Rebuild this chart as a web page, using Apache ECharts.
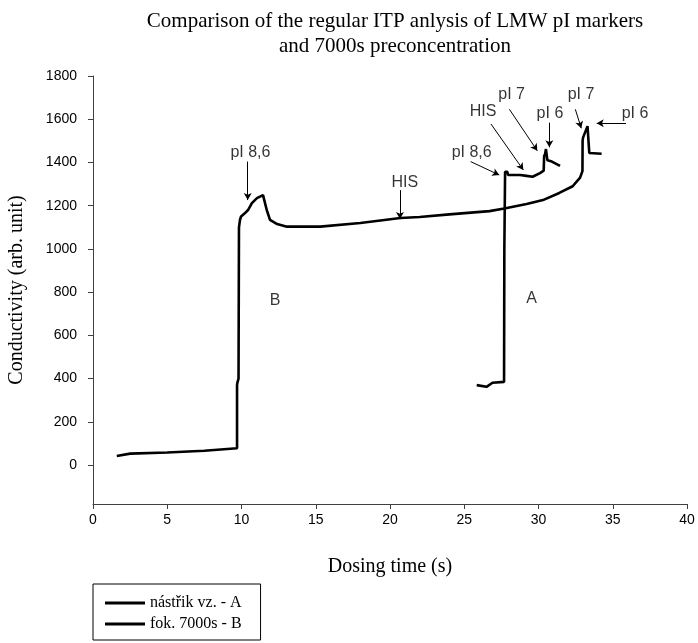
<!DOCTYPE html>
<html>
<head>
<meta charset="utf-8">
<script src="https://cdn.jsdelivr.net/npm/echarts@6/dist/echarts.min.js"></script>
<style>html,body{margin:0;padding:0;background:#fff;}#c{width:698px;height:643px;}</style>
</head>
<body>
<div id="c"></div>
<script>
// ---- data ----
var seriesAName = 'nástřik vz. - A';
var seriesBName = 'fok. 7000s - B';

var seriesA_x = [25.84, 26.5, 26.9, 27.68, 27.7, 27.75, 27.9, 27.95, 28.75, 29.2, 29.6, 30.1, 30.35, 30.38, 30.45, 30.5, 30.58, 30.6, 30.9, 31.45];
var seriesA_y = [370, 362, 381, 385, 1000, 1357, 1357, 1342, 1342, 1338, 1334, 1351, 1362, 1430, 1440, 1462, 1462, 1410, 1404, 1384];

var seriesB_x = [1.6, 2.5, 5, 7.5, 9.7, 9.7, 9.72, 9.8, 9.83, 9.9, 9.97, 10.24, 10.44, 10.7, 11.04, 11.45, 11.58, 11.7, 11.92, 12.4, 13.06, 15.3, 18, 20.7, 22, 24, 26.7, 27.7, 29.2, 30.3, 31.4, 32.3, 32.8, 32.96, 32.97, 33.0, 33.3, 33.36, 33.42, 34.25];
var seriesB_y = [42, 53, 58, 66, 78, 370, 380, 400, 1100, 1135, 1150, 1166, 1180, 1212, 1235, 1249, 1240, 1180, 1134, 1115, 1103, 1103, 1120, 1143, 1148, 1160, 1175, 1187, 1208, 1226, 1259, 1290, 1330, 1360, 1500, 1515, 1568, 1565, 1444, 1440];

var yTicks = [0, 200, 400, 600, 800, 1000, 1200, 1400, 1600, 1800];

// annotation texts (data coordinates) and arrows
var annotTexts = ['pI 8,6', 'HIS', 'B', 'A', 'pI 8,6', 'HIS', 'pI 7', 'pI 6', 'pI 7', 'pI 6'];
var annotTextX = [10.6, 21.0, 12.26, 29.54, 25.5, 26.26, 28.19, 30.77, 32.86, 36.5];
var annotTextY = [1445, 1305, 763, 768, 1445, 1635, 1712, 1627, 1712, 1627];

var arrowFromX = [10.42, 20.67, 25.43, 26.8, 28.04, 30.73, 32.48, 35.89];
var arrowFromY = [1404, 1272, 1404, 1578, 1646, 1584, 1646, 1581];
var arrowToX   = [10.42, 20.67, 27.36, 28.98, 29.92, 30.73, 32.88, 33.92];
var arrowToY   = [1226, 1138, 1342, 1365, 1454, 1470, 1558, 1581];

function pairs(xs, ys) { return xs.map(function (x, i) { return [x, ys[i]]; }); }

var annotData = annotTexts.map(function (t, i) { return { name: t, value: [annotTextX[i], annotTextY[i]] }; });
var arrowData = arrowFromX.map(function (x, i) {
  return [{ coord: [x, arrowFromY[i]] }, { coord: [arrowToX[i], arrowToY[i]] }];
});

var chart = echarts.init(document.getElementById('c'), null, { renderer: 'canvas' });
var axisColor = '#404040';
chart.setOption({
  animation: false,
  backgroundColor: '#ffffff',
  title: {
    text: 'Comparison of the regular ITP anlysis of LMW pI markers\nand 7000s preconcentration',
    left: 390,
    top: 4,
    textAlign: 'center',
    textStyle: { fontFamily: 'Liberation Serif', fontSize: 21, fontWeight: 'normal', color: '#000', lineHeight: 25 }
  },
  legend: {
    data: [seriesAName, seriesBName],
    orient: 'vertical',
    left: 93,
    top: 584,
    padding: [11, 19, 8, 12],
    icon: 'rect',
    itemWidth: 40,
    itemHeight: 3,
    itemGap: 5,
    borderColor: '#000',
    borderWidth: 1,
    textStyle: { fontFamily: 'Liberation Serif', fontSize: 16, color: '#000' }
  },
  grid: { left: 93, right: 11, top: 76, bottom: 139, containLabel: false, outerBoundsMode: 'none' },
  xAxis: {
    type: 'value',
    min: 0, max: 40, interval: 5,
    name: 'Dosing time (s)',
    nameLocation: 'middle',
    nameGap: 53,
    nameTextStyle: { fontFamily: 'Liberation Serif', fontSize: 20, color: '#000' },
    axisLine: { onZero: false, lineStyle: { color: axisColor, width: 1 } },
    axisTick: { show: true, inside: false, length: 5, lineStyle: { color: axisColor } },
    axisLabel: { fontFamily: 'Liberation Sans', fontSize: 14, color: '#000', margin: 9 },
    splitLine: { show: false }
  },
  yAxis: {
    type: 'value',
    min: -180, max: 1800,
    name: 'Conductivity (arb. unit)',
    nameLocation: 'middle',
    nameGap: 66,
    nameTextStyle: { fontFamily: 'Liberation Serif', fontSize: 20, color: '#000' },
    axisLine: { show: true, lineStyle: { color: axisColor, width: 1 } },
    axisTick: { show: true, inside: false, length: 5, lineStyle: { color: axisColor }, customValues: yTicks },
    axisLabel: { fontFamily: 'Liberation Sans', fontSize: 14, color: '#000', margin: 16, customValues: yTicks,
      formatter: function (v) { return String(v); } },
    splitLine: { show: false }
  },
  series: [
    {
      name: seriesAName,
      type: 'line',
      data: pairs(seriesA_x, seriesA_y),
      symbol: 'none',
      lineStyle: { color: '#000', width: 2.6 },
      itemStyle: { color: '#000' },
      z: 3
    },
    {
      name: seriesBName,
      type: 'line',
      data: pairs(seriesB_x, seriesB_y),
      symbol: 'none',
      lineStyle: { color: '#000', width: 2.6 },
      itemStyle: { color: '#000' },
      z: 3,
      markLine: {
        silent: true,
        symbol: ['none', 'arrow'],
        symbolSize: [6, 7],
        label: { show: false },
        lineStyle: { color: '#000', width: 1, type: 'solid' },
        emphasis: { disabled: true },
        data: arrowData
      }
    },
    {
      name: 'annotations',
      type: 'scatter',
      data: annotData,
      symbolSize: 0,
      silent: true,
      label: {
        show: true,
        position: 'inside',
        formatter: function (p) { return p.name; },
        fontFamily: 'Liberation Sans',
        fontSize: 16,
        color: '#000'
      },
      z: 4
    }
  ]
});
</script>
</body>
</html>
